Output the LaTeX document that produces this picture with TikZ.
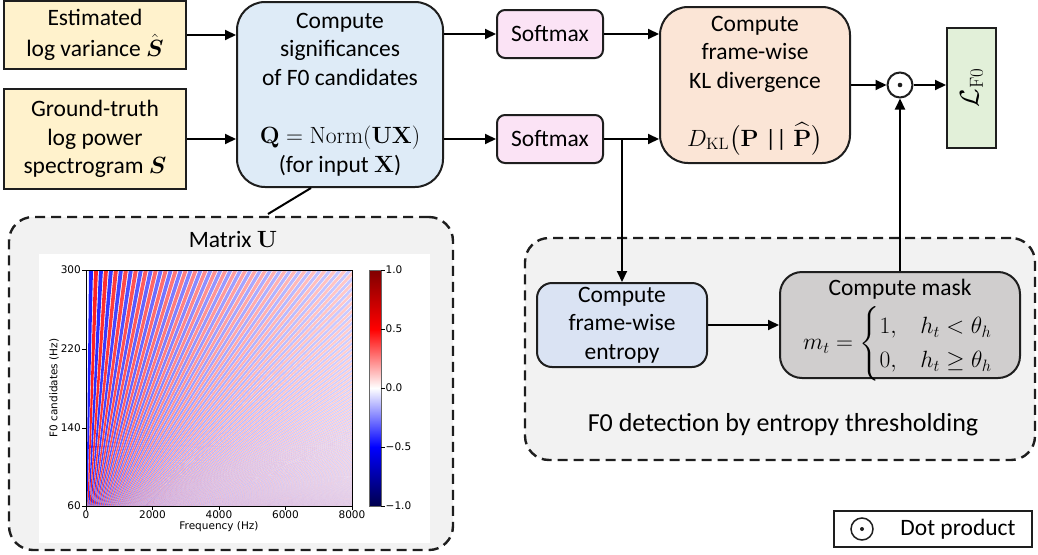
\RequirePackage{fix-cm}
\documentclass[tikz,border=0pt]{standalone}
\usepackage{amsmath}
\usepackage[no-math]{fontspec}
\setmainfont{Carlito}
\newfontfamily\plotfont{DejaVu Sans}
\usetikzlibrary{arrows.meta,fadings,calc}

\definecolor{cyellow}{HTML}{FFF2CC}
\definecolor{cblue}{HTML}{DEEBF7}
\definecolor{cblueb}{HTML}{DAE3F3}
\definecolor{cpink}{HTML}{FBE3F5}
\definecolor{cpeach}{HTML}{FBE5D6}
\definecolor{cgreen}{HTML}{E2F0D9}
\definecolor{cgray}{HTML}{D0CECE}
\definecolor{cpanel}{HTML}{F2F2F2}
\definecolor{cedge}{HTML}{1E1E1E}
\definecolor{sbdark}{rgb}{0,0,0.3}
\definecolor{srdark}{rgb}{0.5,0,0}

% colour map of the heat map (seismic)
\pgfdeclareverticalshading{seismic}{100bp}{color(0bp)=(sbdark); color(25bp)=(sbdark); color(37.5bp)=(blue); color(50bp)=(white); color(62.5bp)=(red); color(75bp)=(srdark); color(100bp)=(srdark)}
% lines grow paler towards high frequencies
\tikzfading[name=plotfade, left color=transparent!100, right color=transparent!55]

\tikzset{
  box/.style={draw=cedge, line width=2pt, align=center, inner sep=0pt},
  arr/.style={-{Triangle[length=11pt,width=10pt]}, line width=2pt},
  panel/.style={draw=cedge, fill=cpanel, line width=2.4pt, dash pattern=on 10pt off 6pt, rounded corners=24pt, inner sep=0pt},
  ticklbl/.style={font=\plotfont\fontsize{10.5}{12}\selectfont, inner sep=0pt},
}

\begin{document}
\begin{tikzpicture}[x=1pt,y=-1pt,font=\fontsize{23.5}{28.5}\selectfont]
\useasboundingbox (0,0) rectangle (1038,554);

% ---------- dashed panels ----------
\node[panel, minimum width=444pt, minimum height=333pt] (upan) at (231,383.5) {};
\node[panel, minimum width=510pt, minimum height=222pt] (detp) at (780,349) {};

% ---------- inputs ----------
\node[box, fill=cyellow, minimum width=182pt, minimum height=68pt] (est) at (95,35)
  {Estimated\\[3pt]log variance $\hat{\boldsymbol{S}}$};
\node[box, fill=cyellow, minimum width=182pt, minimum height=100pt] (gt) at (95,139)
  {Ground-truth\\log power\\spectrogram $\boldsymbol{S}$};

% ---------- significance computation ----------
\node[box, rounded corners=28pt, fill=cblue, minimum width=206pt, minimum height=185pt] (sig) at (340,94.5)
  {Compute\\significances\\of F0 candidates\\[30pt]$\mathbf{Q}=\mathrm{Norm}(\mathbf{UX})$\\(for input $\mathbf{X}$)};

\node[box, rounded corners=8pt, fill=cpink, minimum width=106pt, minimum height=48pt] (sm1) at (550,34) {Softmax};
\node[box, rounded corners=8pt, fill=cpink, minimum width=106pt, minimum height=48pt] (sm2) at (550,139) {Softmax};

\node[box, rounded corners=28pt, fill=cpeach, minimum width=190pt, minimum height=156pt] (kl) at (755,85) {};
\node[align=center, inner sep=0pt] (kltxt) at (755,54) {Compute\\frame-wise\\KL divergence};
\node[inner sep=0pt] (klmath) at (755,139) {$D_{\mathrm{KL}}\bigl(\mathbf{P}\mathrel{\text{||}}\widehat{\mathbf{P}}\bigr)$};

\node[circle, draw=cedge, line width=2pt, minimum size=25pt, inner sep=0pt, fill=white] (dot) at (900,85) {};
\fill[cedge] (dot.center) circle (2.3pt);

\node[box, fill=cgreen, minimum width=49pt, minimum height=120pt] (loss) at (971.5,88)
  {\rotatebox{90}{\fontsize{27}{30}\selectfont$\mathcal{L}_{\mathrm{F0}}$}};

% ---------- F0 detection ----------
\node[box, rounded corners=15pt, fill=cblueb, minimum width=170pt, minimum height=84pt] (ent) at (622,325)
  {Compute\\frame-wise\\entropy};
\node[box, rounded corners=22pt, fill=cgray, minimum width=240pt, minimum height=106pt] (mask) at (900,325) {};
\node[inner sep=0pt] (masktxt) at (900,289) {Compute mask};
\node[inner sep=0pt] (maskmath) at (898,344)
  {$\renewcommand{\arraystretch}{1.3}m_t=\begin{cases}1, & h_t<\theta_h\\ 0, & h_t\geq\theta_h\end{cases}$};
\node[font=\fontsize{26}{30}\selectfont] (detlbl) at (783,425) {F0 detection by entropy thresholding};

% ---------- legend ----------
\node[draw=cedge, line width=1.3pt, minimum width=198pt, minimum height=36pt, inner sep=0pt] (leg) at (933,529) {};
\node[circle, draw=cedge, line width=1.5pt, minimum size=22pt, inner sep=0pt] (legdot) at (862,529) {};
\fill[cedge] (legdot.center) circle (2pt);
\node (legtxt) at (958,529) {Dot product};

% ---------- connectors ----------
\draw[arr] (est.east) -- (est.east -| sig.west);
\draw[arr] (gt.east) -- (gt.east -| sig.west);
\draw[arr] (sig.east |- sm1.west) -- (sm1.west);
\draw[arr] (sig.east |- sm2.west) -- (sm2.west);
\draw[arr] (sm1.east) -- (sm1.east -| kl.west);
\draw[arr] (sm2.east) -- (sm2.east -| kl.west);
\coordinate (br) at (sm2.east -| ent.north);
\draw[arr] (br) -- (ent.north);
\draw[arr] (ent.east) -- (ent.east -| mask.west);
\draw[arr] (mask.north) -- (dot.south);
\draw[arr] (kl.east |- dot.west) -- (dot.west);
\draw[arr] (dot.east) -- (dot.east -| loss.west);
\coordinate (ulink) at (268,214);
\draw[line width=2pt] ($(sig.south west)+(75,0)$) -- (ulink);

% ---------- matrix U figure ----------
\node (utitle) at (233,239) {Matrix $\mathbf{U}$};
\fill[white] (39,254) rectangle (430,543);

\begin{scope}
  \clip (86,270) rectangle (352,506);
  \foreach \n in {1,...,134}{
    \pgfmathsetmacro\op{0.3+0.62*exp(-\n/14)}
    % harmonic ridge (positive)
    \pgfmathsetmacro\xa{86+1.995*(\n-0.2)}
    \pgfmathsetmacro\xb{86+1.995*(\n+0.2)}
    \pgfmathsetmacro\xc{86+9.975*(\n+0.2)}
    \pgfmathsetmacro\xd{86+9.975*(\n-0.2)}
    \fill[red, fill opacity=\op] (\xa,506) -- (\xb,506) -- (\xc,270) -- (\xd,270) -- cycle;
    % inter-harmonic trough (negative)
    \pgfmathsetmacro\ya{86+1.995*(\n-0.7)}
    \pgfmathsetmacro\yb{86+1.995*(\n-0.3)}
    \pgfmathsetmacro\yc{86+9.975*(\n-0.3)}
    \pgfmathsetmacro\yd{86+9.975*(\n-0.7)}
    \fill[blue, fill opacity=\op] (\ya,506) -- (\yb,506) -- (\yc,270) -- (\yd,270) -- cycle;
  }
  \fill[white, path fading=plotfade] (86,270) rectangle (352,506);
\end{scope}
\draw[line width=0.8pt] (86,270) rectangle (352,506);

% axis ticks
\foreach \v/\y in {300/270,220/349,140/428,60/506}{
  \draw[line width=0.7pt] (86,\y) -- (82,\y);
  \node[ticklbl, anchor=east] at (81,\y) {\v};
}
\foreach \v/\x in {0/86,2000/152.5,4000/219,6000/285.5,8000/352}{
  \draw[line width=0.7pt] (\x,506) -- (\x,510);
  \node[ticklbl, anchor=north] at (\x,510.5) {\v};
}
\node[ticklbl] (xlab) at (219,527) {Frequency (Hz)};
\node[ticklbl, rotate=90] (ylab) at (54,388) {F0 candidates (Hz)};

% colour bar
\shade[shading=seismic] (369,270) rectangle (381,506);
\draw[line width=0.7pt, draw=black!60] (369,270) rectangle (381,506);
\foreach \v/\y in {1.0/270,0.5/329,0.0/388,−0.5/447,−1.0/506}{
  \draw[line width=0.7pt] (381,\y) -- (385,\y);
  \node[ticklbl, anchor=west] at (385.5,\y) {\v};
}
\end{tikzpicture}
\end{document}
